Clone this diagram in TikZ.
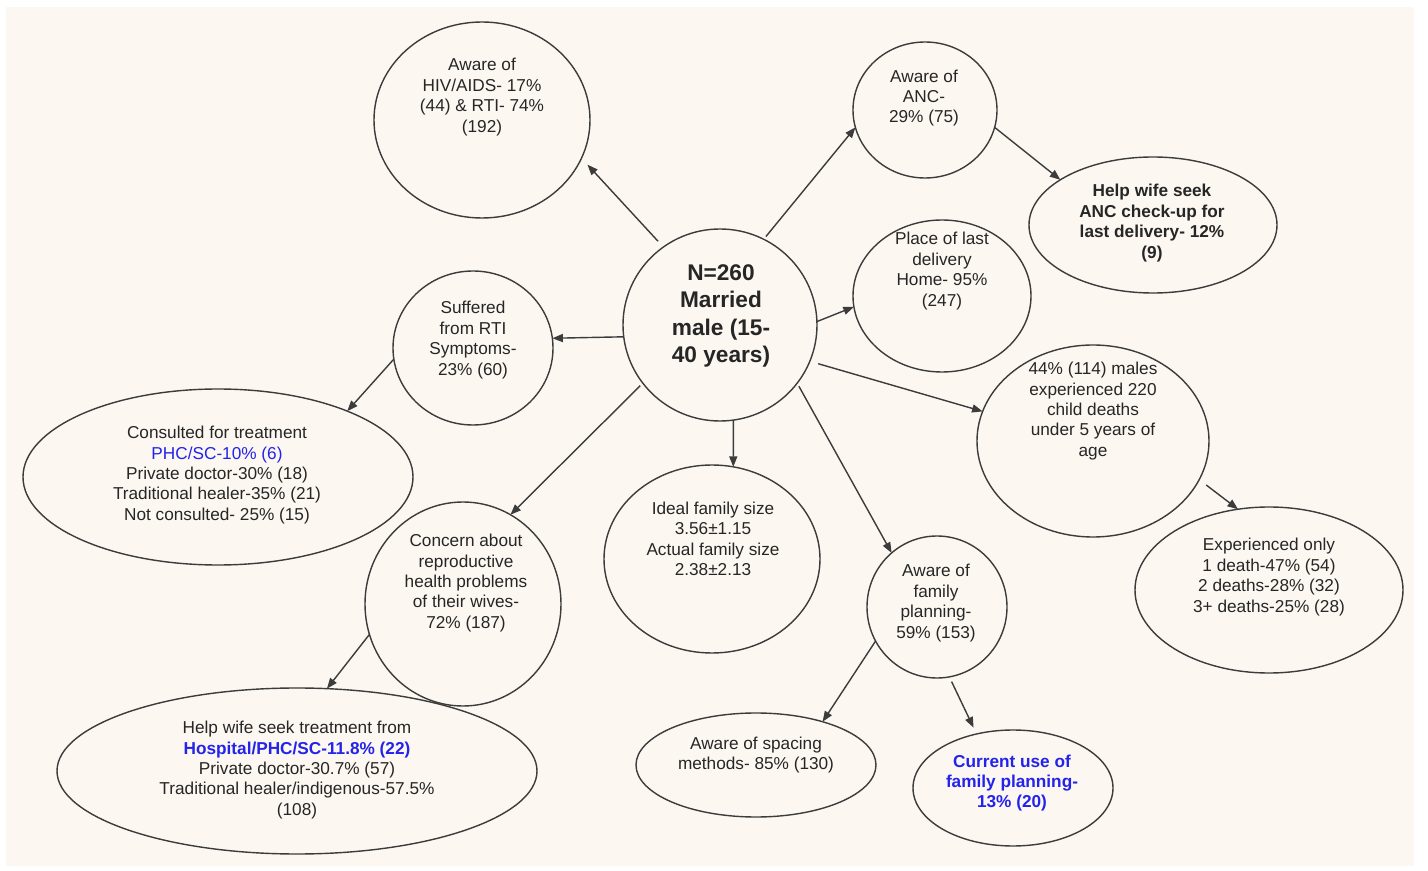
\documentclass[tikz,border=0pt]{standalone}
\usepackage{fontspec}
\setmainfont{Liberation Sans}
\usetikzlibrary{shapes.geometric, arrows.meta}
\definecolor{bgc}{RGB}{252,247,241}
\definecolor{linec}{RGB}{60,60,60}
\definecolor{blutxt}{RGB}{35,35,235}

\begin{document}
\begin{tikzpicture}[x=0.02cm, y=-0.02cm,
    bub/.style 2 args={ellipse, draw=linec, line width=0.8pt, inner sep=0pt, outer sep=0pt,
        minimum width=#1*0.02cm, minimum height=#2*0.02cm},
    txt/.style={align=center, inner sep=0pt, text=black!85, font=\fontsize{9.8}{11.6}\selectfont},
    btxt/.style={txt, font=\bfseries\fontsize{9.8}{11.6}\selectfont},
    arr/.style={draw=linec, line width=0.8pt, -{Triangle[length=6pt, width=4.6pt]}}]
    % --- background ---
    \useasboundingbox (0,0) rectangle (1428,871);
    \fill[white] (0,0) rectangle (1428,871);
    \fill[bgc] (6,7) rectangle (1414,866);

    % --- central bubble ---
    \node[bub={194}{192}] (ctr) at (720,325) {};
    \node[txt, font=\bfseries\fontsize{12.9}{15.5}\selectfont] (tctr) at (721,316) {N=260\\Married\\male (15-\\40 years)};

    % --- upper bubbles ---
    \node[bub={216}{196}] (hiv) at (482,120) {};
    \node[txt] (thiv) at (482,97) {Aware of\\HIV/AIDS- 17\%\\(44) \& RTI- 74\%\\(192)};
    \node[bub={144}{136}] (anc) at (925,110) {};
    \node[txt] (tanc) at (924,98) {Aware of\\ANC-\\29\% (75)};
    \node[bub={248}{136}] (ancw) at (1153,225) {};
    \node[btxt] (tancw) at (1152,223) {Help wife seek\\ANC check-up for\\last delivery- 12\%\\(9)};
    \node[bub={178}{152}] (place) at (942,296) {};
    \node[txt] (tplace) at (942,271) {Place of last\\delivery\\Home- 95\%\\(247)};

    % --- right side: child deaths ---
    \node[bub={232}{192}] (death) at (1093,441) {};
    \node[txt] (tdeath) at (1093,411) {44\% (114) males\\experienced 220\\child deaths\\under 5 years of\\age};
    \node[bub={268}{166}] (exper) at (1269,590) {};
    \node[txt] (texper) at (1269,577) {Experienced only\\1 death-47\% (54)\\2 deaths-28\% (32)\\3+ deaths-25\% (28)};

    % --- left side: RTI ---
    \node[bub={160}{154}] (rti) at (473,348) {};
    \node[txt] (trti) at (473,340) {Suffered\\from RTI\\Symptoms-\\23\% (60)};
    \node[bub={390}{176}] (cons) at (218,477) {};
    \node[txt] (tcons) at (217,475) {Consulted for treatment\\\textcolor{blutxt}{PHC/SC-10\% (6)}\\Private doctor-30\% (18)\\Traditional healer-35\% (21)\\Not consulted- 25\% (15)};

    % --- lower left: wives' health ---
    \node[bub={196}{204}] (conc) at (463,604) {};
    \node[txt] (tconc) at (466,583) {Concern about\\reproductive\\health problems\\of their wives-\\72\% (187)};
    \node[bub={480}{166}] (help) at (297,771) {};
    \node[txt] (thelp) at (297,770) {Help wife seek treatment from\\\textcolor{blutxt}{\bfseries Hospital/PHC/SC-11.8\% (22)}\\Private doctor-30.7\% (57)\\Traditional healer/indigenous-57.5\%\\(108)};

    % --- lower middle: family size and planning ---
    \node[bub={216}{188}] (ideal) at (712,559) {};
    \node[txt] (tideal) at (713,539) {Ideal family size\\3.56±1.15\\Actual family size\\2.38±2.13};
    \node[bub={140}{142}] (fp) at (937,607) {};
    \node[txt] (tfp) at (936,603) {Aware of\\family\\planning-\\59\% (153)};
    \node[bub={240}{104}] (space) at (756,765) {};
    \node[txt] (tspace) at (756,755) {Aware of spacing\\methods- 85\% (130)};
    \node[bub={200}{116}] (cur) at (1013,788) {};
    \node[btxt, text=blutxt] (tcur) at (1012,783) {Current use of\\family planning-\\13\% (20)};

    % --- connectors ---
    \draw[arr, shorten <=4.5pt, shorten >=5pt] (ctr.126) -- (hiv.-21);
    \draw[arr, shorten <=2pt] (ctr.63) -- (anc.-166);
    \draw[arr] (anc.-14) -- (ancw.154);
    \draw[arr] (ctr.2) -- (place.-173);
    \draw[arr, shorten <=5pt] (ctr.-22) -- (death.165);
    \draw[arr, shorten <=5pt] (death.-20) -- (exper.111);
    \draw[arr] (ctr.187) -- (rti.7);
    \draw[arr] (rti.188) -- (cons.27);
    \draw[arr, shorten <=2pt] (ctr.-143) -- (conc.62);
    \draw[arr] (ctr.-82) -- (ideal.77);
    \draw[arr, shorten <=2pt] (ctr.-37) -- (fp.130);
    \draw[arr] (conc.-162) -- (help.70);
    \draw[arr] (fp.-151) -- (space.33);
    \draw[arr, shorten <=3pt, shorten >=4pt] (fp.-80) -- (cur.124);
\end{tikzpicture}
\end{document}
